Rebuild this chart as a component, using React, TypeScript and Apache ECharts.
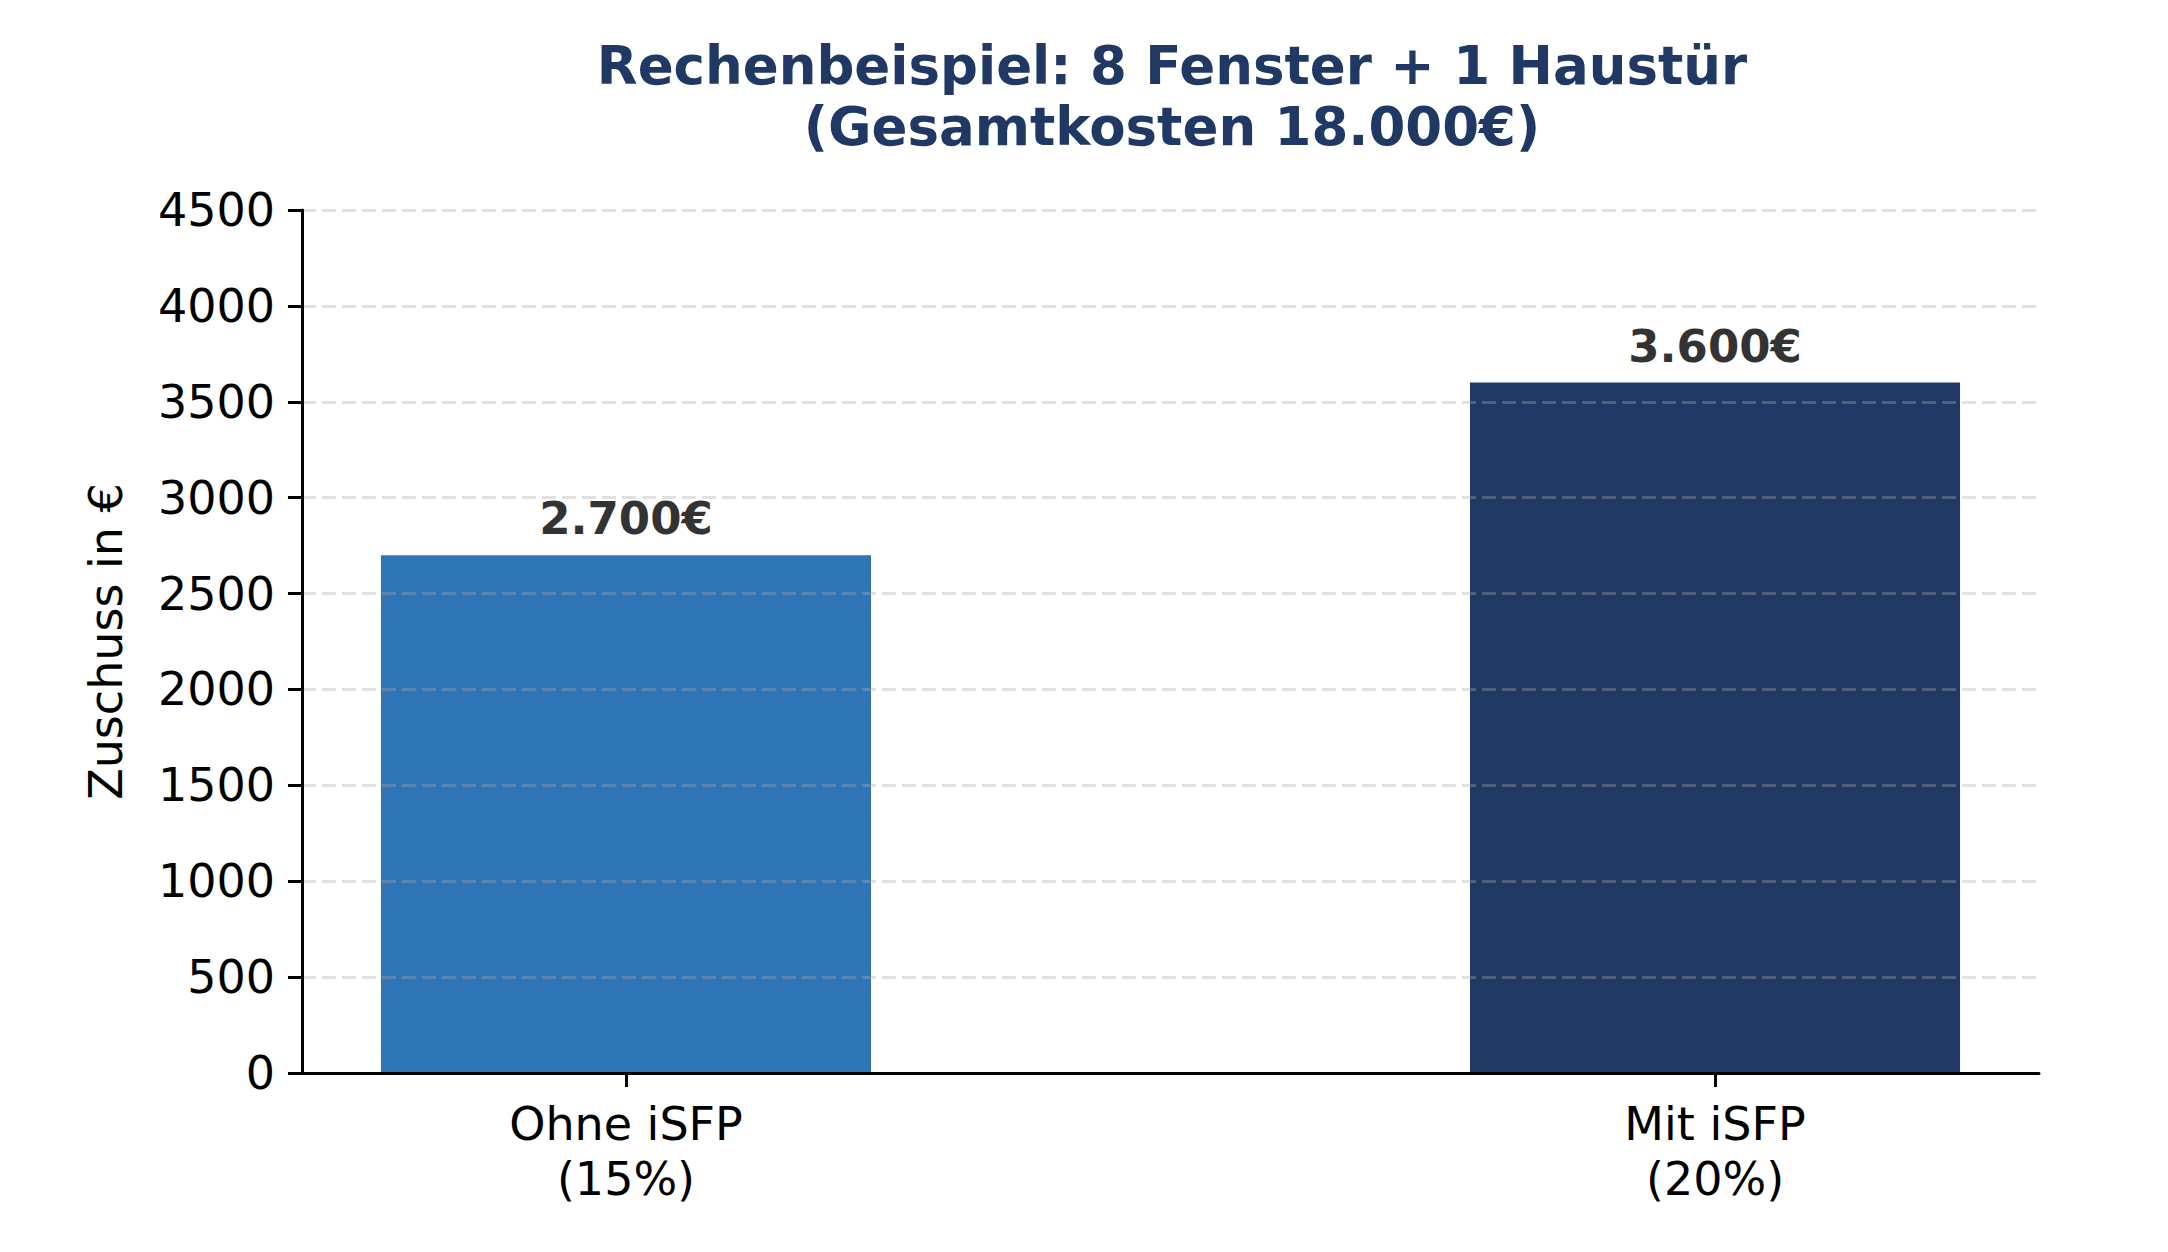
import React, { useEffect, useRef } from "react";
import * as echarts from "echarts";

const categories = ["Ohne iSFP\n(15%)", "Mit iSFP\n(20%)"];
const values = [2700, 3600];
const valueLabels = ["2.700€", "3.600€"];
const barColors = ["#2E75B6", "#1F3864"];
const yTicks = [0, 500, 1000, 1500, 2000, 2500, 3000, 3500, 4000, 4500];
const titleText = "Rechenbeispiel: 8 Fenster + 1 Haustür\n(Gesamtkosten 18.000€)";
const yAxisName = "Zuschuss in €";

const BAR_UNITS = 0.45;
const X_MIN = -BAR_UNITS / 2 - 0.05 * (1 + BAR_UNITS);
const X_MAX = 1 + BAR_UNITS / 2 + 0.05 * (1 + BAR_UNITS);

export default function App() {
  const ref = useRef<HTMLDivElement>(null);
  useEffect(() => {
    document.body.style.margin = "0";
    if (!ref.current) return;
    const chart = echarts.init(ref.current, null, { renderer: "svg" });
    const W = 2168;
    const gridLeft = 302;
    const gridRight = 129;
    const gridW = W - gridLeft - gridRight;
    const barPx = (BAR_UNITS * gridW) / (X_MAX - X_MIN);
    const font = "DejaVu Sans";
    chart.setOption({
      animation: false,
      backgroundColor: "#ffffff",
      title: {
        text: titleText,
        left: 1167,
        textAlign: "center",
        top: 30,
        textStyle: {
          fontFamily: font,
          fontSize: 53,
          fontWeight: "bold",
          color: "#1F3864",
          lineHeight: 61,
        },
      },
      grid: { left: gridLeft, right: gridRight, top: 210, bottom: 179, containLabel: false },
      xAxis: {
        type: "value",
        min: X_MIN,
        max: X_MAX,
        z: 5,
        splitLine: { show: false },
        axisLine: { show: true, onZero: false, lineStyle: { color: "#000", width: 3 } },
        axisTick: {
          show: true,
          customValues: [0, 1],
          length: 14,
          lineStyle: { color: "#000", width: 3 },
        },
        axisLabel: {
          show: true,
          customValues: [0, 1],
          formatter: (v: number) => categories[Math.round(v)] ?? "",
          fontFamily: font,
          fontSize: 46,
          color: "#000",
          lineHeight: 55,
          margin: 23,
        },
      },
      yAxis: {
        type: "value",
        min: yTicks[0],
        max: yTicks[yTicks.length - 1],
        interval: yTicks[1] - yTicks[0],
        z: 5,
        name: yAxisName,
        nameLocation: "middle",
        nameRotate: 90,
        nameGap: 173,
        nameTextStyle: { fontFamily: font, fontSize: 46, color: "#000" },
        axisLine: { show: true, onZero: false, lineStyle: { color: "#000", width: 3 } },
        axisTick: { show: true, length: 14, lineStyle: { color: "#000", width: 3 } },
        axisLabel: {
          fontFamily: font,
          fontSize: 46,
          color: "#000",
          margin: 27,
          formatter: (v: number) => String(v),
        },
        splitLine: {
          show: true,
          lineStyle: { color: "rgba(170,170,170,0.35)", width: 3, type: [14, 6] },
        },
      },
      series: [
        {
          type: "bar",
          barWidth: barPx,
          data: values.map((v, i) => ({
            value: [i, v],
            itemStyle: { color: barColors[i] },
            label: {
              show: true,
              position: "top",
              distance: 14,
              formatter: valueLabels[i],
              fontFamily: font,
              fontSize: 45,
              fontWeight: "bold",
              color: "#333333",
            },
          })),
        },
      ],
    });
    return () => chart.dispose();
  }, []);
  return <div ref={ref} style={{ width: 2168, height: 1252 }} />;
}
